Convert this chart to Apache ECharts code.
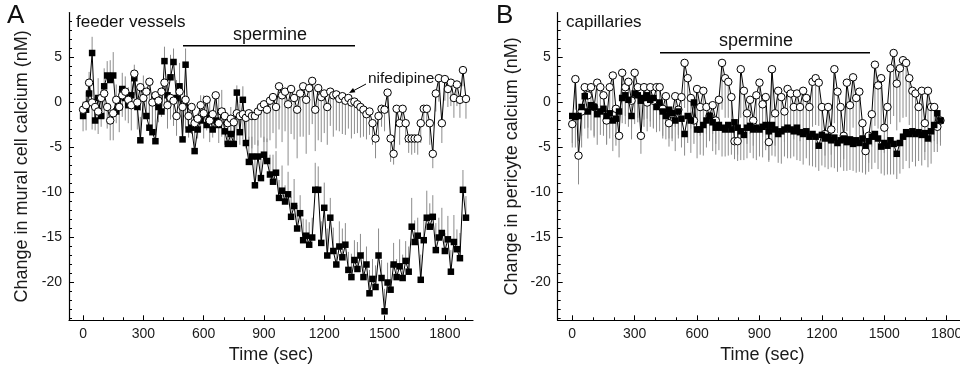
<!DOCTYPE html>
<html><head><meta charset="utf-8">
<script src="https://cdn.jsdelivr.net/npm/echarts@6/dist/echarts.min.js"></script>
<style>html,body{margin:0;padding:0;background:#fff}#c{width:960px;height:373px}</style>
</head><body><div id="c"></div>
<script>
// sampling interval of the recordings (sec)
const stepSec = 15;

// Panel A – feeder vessels
const aSquares = [
 -1.5,-0.8,1.0,5.5,-2.0,0.5,-1.5,1.8,3.0,2.5,3.0,-1.0,-0.5,1.5,0.5,-0.3,
 0.8,2.7,-0.5,-4.2,0.5,-1.5,-2.8,-3.3,-4.3,-0.5,-1.0,4.6,0.8,2.8,4.5,0.5,
 1.8,-4.1,4.2,-3.0,-2.8,-5.4,-3.0,-2.0,-1.2,-2.5,-1.5,-3.0,-2.0,-2.5,-1.0,-3.2,
 -4.6,-3.5,-4.6,1.1,-3.3,0.3,-4.5,-6.6,-6.0,-9.2,-6.0,-8.4,-5.8,-6.5,-8.0,-8.8,
 -7.8,-10.6,-9.8,-11.0,-10.2,-12.7,-11.5,-14.0,-12.3,-15.3,-14.8,-15.8,-15.0,-9.7,-9.7,-15.6,
 -11.7,-17.0,-12.8,-16.5,-18.0,-16.0,-17.2,-15.8,-18.6,-19.4,-17.5,-18.5,-17.0,-19.4,-18.0,-21.2,
 -19.6,-20.5,-17.0,-19.5,-23.2,-20.0,-20.8,-18.0,-19.4,-18.2,-19.5,-17.6,-18.8,-13.8,-15.5,-14.8,
 -19.7,-15.3,-12.8,-13.8,-12.7,-16.4,-15.0,-14.5,-16.5,-15.2,-18.8,-15.5,-16.3,-17.3,-9.7,-12.8
];
const aSquaresErr = [
 1.6,2.0,2.4,1.8,2.6,2.2,2.8,2.0,1.6,2.2,2.6,3.0,2.0,1.8,2.4,2.0,
 1.6,1.5,2.2,2.6,2.5,2.0,2.8,3.0,2.4,2.0,2.6,1.6,2.2,2.5,1.5,2.0,
 2.6,3.2,1.8,2.0,2.4,2.2,1.8,2.8,2.0,2.5,1.6,2.2,2.8,3.0,2.4,2.6,
 2.0,3.0,2.2,0.8,3.2,1.5,2.5,2.8,2.2,3.0,1.8,2.6,2.0,2.5,2.2,3.0,
 2.4,2.0,2.8,1.8,2.5,2.2,3.0,2.6,2.0,2.4,1.8,2.5,2.2,3.0,2.6,2.4,
 2.8,3.0,2.2,2.6,2.0,2.8,3.2,2.4,2.0,2.6,2.2,3.0,2.4,2.8,2.0,2.6,
 2.2,2.4,3.0,2.0,2.5,2.2,2.8,2.4,2.0,3.0,2.6,2.2,2.8,3.2,2.4,2.0,
 2.8,2.2,3.0,2.6,2.4,3.0,2.2,2.8,2.0,2.6,2.4,3.0,2.2,2.8,2.2,2.4
];
const aCircles = [
 -0.8,-0.3,2.2,0.0,-0.5,-1.0,0.5,1.0,-0.5,-2.0,-1.2,0.3,-0.5,0.8,1.2,0.3,
 -0.3,3.2,0.0,1.7,0.5,1.2,2.3,0.0,0.8,0.2,1.2,2.2,-0.3,0.5,0.2,-1.5,
 1.2,-0.5,0.3,-1.5,-0.5,-2.3,-1.8,-0.3,-1.2,0.3,-2.0,-1.3,0.8,-2.3,-1.0,-1.5,
 -2.3,-1.8,-2.2,-1.2,-1.5,-1.3,-1.7,-1.2,-1.5,-1.5,-1.0,-0.5,-0.2,-0.8,0.2,0.6,
 -0.5,1.8,0.8,1.2,-0.2,1.5,0.5,-0.8,1.0,1.8,0.3,1.6,2.4,-0.8,1.6,0.6,
 1.0,-0.5,1.2,0.8,0.9,0.4,0.7,0.2,0.5,0.0,0.1,-0.2,-0.5,-0.8,-1.3,-1.0,
 -2.3,-4.0,-1.5,-0.7,-0.8,1.1,-4.0,-5.7,-0.7,-2.3,-0.7,-2.3,-4.0,-4.0,-4.0,-4.0,
 -2.3,-0.7,-0.7,-2.3,-5.7,1.0,2.7,-2.3,2.6,1.5,2.2,0.5,2.0,0.3,3.6,0.4
];
const aCirclesErr = [
 2.4,2.8,2.2,3.0,2.6,2.5,3.2,2.8,2.4,2.2,3.0,2.6,2.8,2.4,3.2,2.6,
 2.8,2.4,3.0,2.6,2.2,2.8,3.4,2.6,3.0,2.4,2.8,3.2,2.6,2.4,2.8,2.2,
 2.6,2.8,3.2,2.4,3.0,2.6,2.2,3.0,2.8,3.4,2.4,2.6,3.0,2.2,2.8,3.2,
 2.4,2.8,2.6,3.0,3.2,2.8,3.4,3.0,3.6,3.2,3.8,3.4,4.2,3.6,4.4,4.0,
 4.6,4.8,5.2,4.4,6.8,5.0,4.6,5.4,4.8,5.6,6.0,5.2,4.8,4.6,5.8,5.0,
 4.4,4.2,3.8,4.6,4.0,3.6,4.2,3.8,3.4,4.0,3.6,3.2,3.4,3.0,2.8,2.6,
 2.4,2.2,2.6,2.0,2.4,2.2,2.6,1.2,2.0,2.4,1.8,2.2,1.6,1.8,1.6,1.8,
 2.2,1.8,2.0,2.4,1.6,2.0,2.6,2.2,2.4,2.0,2.6,2.2,2.4,2.0,1.8,2.2
];

// Panel B – capillaries
const bSquares = [
 -1.5,-1.6,-1.5,-0.5,0.7,-1.0,-0.3,-0.5,-1.3,-1.0,-0.7,-1.5,-1.2,-2.0,-1.8,-1.0,
 0.5,0.8,0.3,-1.5,1.0,0.8,0.2,0.5,0.8,0.3,0.5,-0.5,0.0,-1.0,-1.5,-0.8,
 -1.2,-2.0,-1.0,-1.8,-3.5,-1.5,-2.0,0.0,-3.0,-3.0,-2.5,-2.0,-1.5,-2.2,-2.8,-2.5,
 -2.8,-3.0,-2.5,-3.0,-2.2,-2.8,-3.2,-3.6,-2.8,-2.6,-3.0,-2.8,-3.0,-2.7,-2.5,-3.2,
 -2.5,-3.0,-3.5,-3.2,-3.0,-2.8,-3.0,-3.2,-2.8,-3.3,-3.5,-3.2,-3.8,-3.5,-3.8,-4.8,
 -3.6,-4.0,-3.8,-4.2,-3.9,-4.5,-4.2,-4.0,-4.4,-4.1,-4.6,-4.2,-4.5,-4.0,-4.8,-4.3,
 -3.8,-3.5,-4.0,-4.9,-4.5,-4.8,-4.2,-4.6,-5.7,-4.5,-3.8,-3.3,-3.5,-3.2,-3.5,-3.3,
 -3.6,-3.4,-4.0,-3.2,-2.5,-1.2,-2.0
];
const bSquaresErr = [
 3.0,3.4,2.8,3.2,3.6,3.0,2.8,3.2,3.4,2.6,3.0,3.2,2.8,3.4,3.0,2.6,
 2.8,3.2,3.0,2.6,3.4,3.0,2.8,3.2,2.6,3.0,3.4,2.8,3.2,3.0,2.6,3.2,
 2.8,3.4,3.0,3.2,2.4,3.0,3.6,2.8,3.2,2.8,3.4,3.0,2.6,3.2,3.0,2.8,
 3.2,3.0,3.4,2.8,3.6,3.0,3.2,2.8,3.4,3.0,3.2,3.6,3.0,3.4,2.8,3.2,
 3.4,3.0,3.2,3.6,3.0,3.4,3.2,2.8,3.6,3.2,3.4,3.0,3.2,3.6,3.4,2.8,
 3.4,3.2,3.6,3.0,3.4,3.2,3.0,3.6,3.2,3.4,3.0,3.6,3.2,3.8,3.0,3.4,
 3.6,3.2,3.4,3.0,3.6,3.2,3.8,3.4,2.8,3.4,3.6,3.2,3.8,3.4,3.6,3.2,
 3.4,3.0,3.2,3.6,3.0,3.4,2.8
];
const bCircles = [
 -2.4,2.6,-5.9,-1.0,1.7,0.8,1.7,-0.5,2.2,1.7,0.8,-2.0,1.7,3.0,-0.7,-3.7,
 3.3,1.7,2.3,0.2,3.3,1.7,-3.7,1.7,0.0,1.7,0.2,1.7,1.7,-0.7,0.7,-2.3,
 -1.3,0.7,-0.8,0.6,4.4,2.7,0.5,-2.0,1.5,-0.5,1.3,-0.5,-1.5,-0.3,-2.0,0.3,
 4.4,2.7,2.3,0.6,-4.3,-4.3,3.7,1.3,-1.2,0.3,-2.0,0.8,2.2,-0.2,0.6,-4.4,
 3.7,-1.2,1.3,0.6,-1.0,1.5,1.0,-0.5,1.0,-0.5,1.3,0.5,-0.5,2.3,2.7,2.2,
 -0.5,-3.5,-0.5,-3.0,3.7,1.2,-0.5,-3.7,2.2,-0.3,2.8,0.5,1.2,-2.3,-5.4,-3.7,
 -1.3,4.2,1.9,2.7,-2.8,-0.5,3.8,5.5,2.1,3.8,4.7,4.4,2.7,1.3,1.0,-0.5,
 1.3,-2.3,1.3,-0.5,-0.5,-2.7,-2.0
];
const bCirclesErr = [
 2.6,3.4,3.2,4.0,3.0,3.6,2.8,3.4,3.8,3.0,3.2,2.6,3.6,4.2,3.0,2.4,
 4.0,3.2,3.6,3.0,4.4,3.4,2.0,3.6,3.2,3.8,3.0,3.4,3.6,3.0,3.2,2.6,
 3.0,3.4,2.8,3.2,5.0,3.8,3.4,2.6,4.0,3.2,3.6,3.0,2.8,3.2,2.6,3.4,
 5.2,4.4,4.0,3.6,2.0,2.2,5.4,4.2,3.4,3.8,2.8,4.0,4.6,3.6,4.0,2.2,
 5.4,3.6,4.4,4.0,3.4,4.6,4.2,3.6,4.4,3.8,4.6,4.2,3.8,5.0,5.2,4.8,
 3.8,2.4,4.0,2.8,6.0,4.6,4.0,2.6,5.4,4.0,5.6,4.4,4.8,3.4,2.6,3.0,
 3.6,6.8,4.8,5.4,2.8,4.0,6.2,7.0,5.2,6.0,6.4,6.0,5.2,4.6,4.4,3.6,
 4.6,3.2,4.8,4.0,3.8,2.8,2.4
];

// Tick values
const xMajorTicks = [0,300,600,900,1200,1500,1800];
const xMinorTicks = [0,100,200,300,400,500,600,700,800,900,1000,1100,1200,1300,1400,1500,1600,1700,1800,1900];
const yMajorTicks = [-20,-15,-10,-5,0,5];
const yMinorTicks = [-24,-23,-22,-21,-20,-19,-18,-17,-16,-15,-14,-13,-12,-11,-10,-9,-8,-7,-6,-5,-4,-3,-2,-1,0,1,2,3,4,5,6,7,8,9];

const FONT = "'Liberation Sans', Arial, Helvetica, sans-serif";
const chart = echarts.init(document.getElementById('c'), null, {renderer:'canvas'});

function pts(vals){ return vals.map((v,i)=>[i*stepSec, v]); }
function errPts(vals, errs, dir){ return vals.map((v,i)=>[i*stepSec, v, v + dir*errs[i]]); }
const plain = v => String(v);

function errSeries(data, xi, yi){
  return {
    type:'custom', xAxisIndex:xi, yAxisIndex:yi, data, silent:true, animation:false,
    encode:{x:0, y:[1,2]},
    renderItem:(params, api)=>{
      const p1 = api.coord([api.value(0), api.value(1)]);
      const p2 = api.coord([api.value(0), api.value(2)]);
      return {type:'line', shape:{x1:p1[0],y1:p1[1],x2:p2[0],y2:p2[1]},
              style:{stroke:'#8c8c8c', lineWidth:1}};
    }
  };
}
function sqSeries(data, xi, yi){
  return {type:'line', xAxisIndex:xi, yAxisIndex:yi, data, symbol:'rect', symbolSize:6.5,
    showAllSymbol:true, silent:true, animation:false,
    lineStyle:{color:'#000', width:1}, itemStyle:{color:'#000'}};
}
function ciSeries(data, xi, yi){
  return {type:'line', xAxisIndex:xi, yAxisIndex:yi, data, symbol:'circle', symbolSize:7.5,
    showAllSymbol:true, silent:true, animation:false,
    lineStyle:{color:'#000', width:1}, itemStyle:{color:'#fff', borderColor:'#000', borderWidth:1}};
}

function xAxes(grid, max, namePad){
  return [
    {gridIndex:grid, type:'value', min:-70, max:max, position:'bottom',
     axisLine:{show:true, onZero:false, lineStyle:{color:'#000', width:1.2}},
     axisTick:{show:true, inside:true, length:5, customValues:xMajorTicks, lineStyle:{color:'#000'}},
     axisLabel:{customValues:xMajorTicks, formatter:plain, margin:7, fontSize:14, color:'#1a1a1a', fontFamily:FONT},
     splitLine:{show:false},
     name:'Time (sec)', nameLocation:'middle', nameGap:23,
     nameTextStyle:{fontSize:18, color:'#1a1a1a', fontFamily:FONT, padding:[0, namePad, 0, 0]}},
    {gridIndex:grid, type:'value', min:-70, max:max, position:'bottom',
     axisLine:{show:false, onZero:false},
     axisTick:{show:true, inside:true, length:3, customValues:xMinorTicks, lineStyle:{color:'#000'}},
     axisLabel:{show:false}, splitLine:{show:false}}
  ];
}
function yAxes(grid, title, gap){
  return [
    {gridIndex:grid, type:'value', min:-24.2, max:10, position:'left',
     axisLine:{show:true, onZero:false, lineStyle:{color:'#000', width:1.2}},
     axisTick:{show:true, inside:true, length:5, customValues:yMajorTicks, lineStyle:{color:'#000'}},
     axisLabel:{customValues:yMajorTicks, formatter:plain, margin:7, fontSize:14, color:'#1a1a1a', fontFamily:FONT},
     splitLine:{show:false},
     name:title, nameLocation:'middle', nameGap:gap, nameRotate:90,
     nameTextStyle:{fontSize:18, color:'#1a1a1a', fontFamily:FONT}},
    {gridIndex:grid, type:'value', min:-24.2, max:10, position:'left',
     axisLine:{show:false, onZero:false},
     axisTick:{show:true, inside:true, length:3, customValues:yMinorTicks, lineStyle:{color:'#000'}},
     axisLabel:{show:false}, splitLine:{show:false}}
  ];
}

const txt = (x, y, s, size, align) => ({type:'text', x, y, silent:true,
  style:{text:s, fontSize:size, fontFamily:FONT, fill:'#111', align:align||'left', verticalAlign:'middle'}});

chart.setOption({
  animation:false,
  backgroundColor:'#fff',
  grid:[
    {left:69, top:12.5, width:404, height:307.8, outerBoundsMode:'none', containLabel:false},
    {left:557.7, top:12.5, width:420.2, height:307.8, outerBoundsMode:'none', containLabel:false}
  ],
  xAxis:[...xAxes(0, 1940, 0), ...xAxes(1, 1950, 11)],
  yAxis:[...yAxes(0, 'Change in mural cell calcium (nM)', 38), ...yAxes(1, 'Change in pericyte calcium (nM)', 37)],
  series:[
    errSeries(errPts(aCircles, aCirclesErr, -1), 0, 0),
    errSeries(errPts(aSquares, aSquaresErr, 1), 0, 0),
    sqSeries(pts(aSquares), 0, 0),
    ciSeries(pts(aCircles), 0, 0),
    ciSeries(pts(bCircles), 2, 2),
    errSeries(errPts(bCircles, bCirclesErr, -1), 2, 2),
    errSeries(errPts(bSquares, bSquaresErr, -1), 2, 2),
    sqSeries(pts(bSquares), 2, 2)
  ],
  graphic:[
    txt(7, 16, 'A', 26),
    txt(496, 16, 'B', 26),
    txt(76, 22, 'feeder vessels', 17),
    txt(566, 22, 'capillaries', 17),
    txt(270, 35, 'spermine', 18, 'center'),
    {type:'line', silent:true, shape:{x1:183, y1:45.7, x2:355, y2:45.7}, style:{stroke:'#000', lineWidth:1.4}},
    txt(756, 41, 'spermine', 18, 'center'),
    {type:'line', silent:true, shape:{x1:660, y1:52.7, x2:870, y2:52.7}, style:{stroke:'#000', lineWidth:1.4}},
    txt(368, 78.5, 'nifedipine', 15.5),
    {type:'line', silent:true, shape:{x1:366, y1:84, x2:352, y2:91.5}, style:{stroke:'#000', lineWidth:1}},
    {type:'polygon', silent:true, shape:{points:[[349,93],[355.4,92.3],[353.0,87.9]]}, style:{fill:'#000'}}
  ]
});
</script>
</body></html>
